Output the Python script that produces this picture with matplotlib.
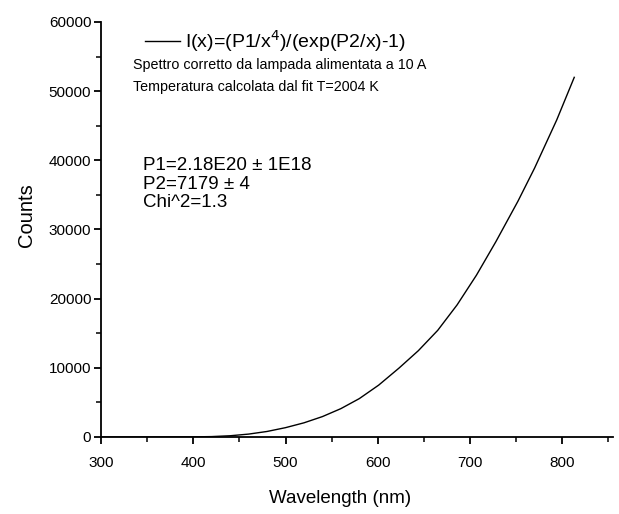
import matplotlib
matplotlib.use("Agg")
import matplotlib.pyplot as plt
from matplotlib.ticker import MultipleLocator
from matplotlib.lines import Line2D

plt.rcParams['font.family'] = ['Liberation Sans', 'DejaVu Sans']

# Measured lamp spectrum (corrected), wavelength in nm
wavelength = [300, 350, 400, 420, 440, 460, 480, 500, 520, 540, 560, 580,
              601, 623, 644, 665, 686, 707, 728, 752, 770, 794, 813]
counts = [0, 0, 20, 60, 180, 420, 800, 1350, 2050, 2950, 4100, 5550,
          7500, 9960, 12480, 15420, 19100, 23400, 28230, 34100, 38880,
          45840, 52000]

x_ticks = [300, 400, 500, 600, 700, 800]
y_ticks = [0, 10000, 20000, 30000, 40000, 50000, 60000]

legend_text = r"I(x)=(P1/x$^{4}$)/(exp(P2/x)-1)"
info_lines = ["Spettro corretto da lampada alimentata a 10 A",
              "Temperatura calcolata dal fit T=2004 K"]
fit_lines = ["P1=2.18E20 \u00b1 1E18", "P2=7179 \u00b1 4", "Chi^2=1.3"]

W, H = 619, 514
fig = plt.figure(figsize=(W / 100, H / 100), dpi=100)
ax = fig.add_axes([101 / W, 1 - 437 / H, (613 - 101) / W, (437 - 22) / H])

ax.plot(wavelength, counts, color='black', lw=1.0)

ax.set_xlim(300, 855)
ax.set_ylim(0, 60000)
ax.set_xticks(x_ticks)
ax.set_yticks(y_ticks)
ax.xaxis.set_minor_locator(MultipleLocator(50))
ax.yaxis.set_minor_locator(MultipleLocator(5000))

for s in ['top', 'right']:
    ax.spines[s].set_visible(False)
for s in ['left', 'bottom']:
    ax.spines[s].set_linewidth(1.3)

ax.tick_params(which='major', direction='out', length=5, width=1.3,
               labelsize=11, colors='black')
ax.tick_params(which='minor', direction='out', length=3.5, width=1.1)
ax.tick_params(axis='x', pad=9)
ax.tick_params(axis='y', pad=2)

ax.set_xlabel("Wavelength (nm)", fontsize=13.5)
ax.set_ylabel("Counts", fontsize=14.5)
ax.xaxis.set_label_coords((340 - 101) / 512, (437 - 490) / 415)
ax.yaxis.set_label_coords((36 - 101) / 512, (437 - 215) / 415)


def fx(px):
    return px / W


def fy(py):
    return 1 - py / H


# legend entry
fig.add_artist(Line2D([fx(145), fx(180)], [fy(41), fy(41)],
                      color='black', lw=1.0, transform=fig.transFigure))
fig.text(fx(185), fy(41), legend_text, fontsize=14, va='center', ha='left')

for i, t in enumerate(info_lines):
    fig.text(fx(133), fy(65 + 22 * i), t, fontsize=10.3, va='center', ha='left')

for i, t in enumerate(fit_lines):
    fig.text(fx(143), fy(165 + 19 * i), t, fontsize=13.5, va='center', ha='left')

fig.savefig("out.png", dpi=100)
